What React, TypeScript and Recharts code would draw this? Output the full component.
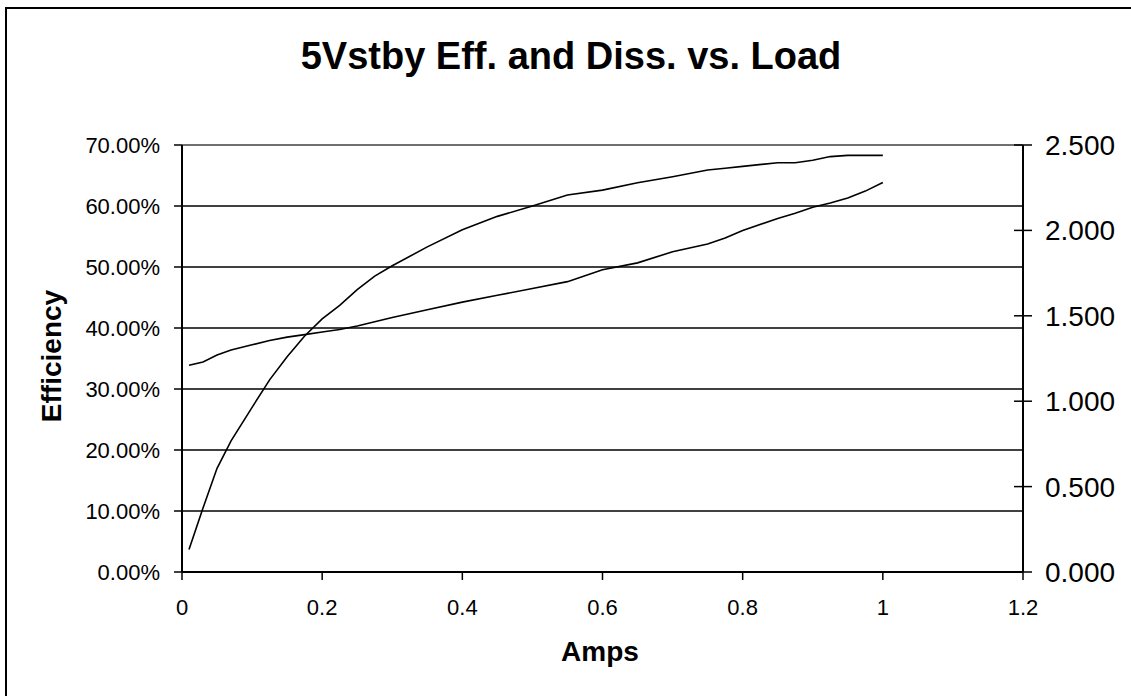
import React from 'react';
import { LineChart, Line, XAxis, YAxis, CartesianGrid, ReferenceLine } from 'recharts';

// load current (A)
const amps = [
    0.01, 0.03, 0.05, 0.07, 0.1, 0.125, 0.15, 0.175, 0.2, 0.225, 0.25, 0.275, 0.3, 0.35, 0.4, 0.45,
    0.5, 0.55, 0.6, 0.65, 0.7, 0.75, 0.775, 0.8, 0.85, 0.875, 0.9, 0.925, 0.95, 0.975, 1.0,
];

// efficiency (%)
const efficiency = [
    3.7, 10.5, 17.0, 21.5, 27.0, 31.5, 35.3, 38.7, 41.5, 43.7, 46.3, 48.5, 50.2, 53.3, 56.1, 58.3,
    60.0, 61.8, 62.6, 63.8, 64.8, 65.9, 66.2, 66.5, 67.1, 67.1, 67.5, 68.1, 68.3, 68.3, 68.3,
];

// dissipation (W)
const dissipation = [
    1.21, 1.23, 1.27, 1.3, 1.33, 1.355, 1.375, 1.39, 1.405, 1.42, 1.44, 1.465, 1.49, 1.535, 1.58, 1.62,
    1.66, 1.7, 1.77, 1.81, 1.875, 1.92, 1.955, 2.0, 2.07, 2.1, 2.135, 2.16, 2.19, 2.23, 2.28,
];

const xTicks = [0, 0.2, 0.4, 0.6, 0.8, 1, 1.2];
const effTicks = [0, 10, 20, 30, 40, 50, 60, 70];
const dissTicks = [0, 0.5, 1, 1.5, 2, 2.5];

const data = amps.map((a, i) => ({ amps: a, eff: efficiency[i], diss: dissipation[i] }));

const FONT = '"Liberation Sans", Arial, sans-serif';

// right axis ticks cross the axis line, so draw them by hand
const RightTick = (props: any) => {
    const { x, y, payload } = props;
    const axisX = x - 22;
    return (
        <g>
            <line x1={axisX - 9} y1={y} x2={axisX + 9} y2={y} stroke="#000" strokeWidth={1.5} />
            <text x={x} y={y} dy="0.355em" textAnchor="start" fontSize={28} fontFamily={FONT} fill="#000">
                {Number(payload.value).toFixed(3)}
            </text>
        </g>
    );
};

export default function App() {
    return (
        <div style={{ position: 'absolute', left: 0, top: 0, width: 1131, height: 696, background: '#fff', overflow: 'hidden' }}>
            <LineChart width={1131} height={696} data={data} margin={{ top: 145, right: 0, bottom: 0, left: 0 }}>
                <CartesianGrid yAxisId="left" vertical={false} stroke="#000" strokeWidth={1.5} />
                <ReferenceLine yAxisId="left" y={70} stroke="#808080" strokeWidth={1.5} />
                <XAxis
                    dataKey="amps"
                    type="number"
                    domain={[0, 1.2]}
                    ticks={xTicks}
                    interval={0}
                    height={124}
                    tickSize={8}
                    tickMargin={19}
                    tickFormatter={(v: number) => String(v)}
                    axisLine={{ stroke: '#000', strokeWidth: 2 }}
                    tickLine={{ stroke: '#000', strokeWidth: 1.5 }}
                    tick={{ fontSize: 22, fontFamily: FONT, fill: '#000' }}
                />
                <YAxis
                    yAxisId="left"
                    domain={[0, 70]}
                    ticks={effTicks}
                    interval={0}
                    width={182}
                    tickSize={8}
                    tickMargin={14}
                    tickFormatter={(v: number) => v.toFixed(2) + '%'}
                    axisLine={{ stroke: '#000', strokeWidth: 2 }}
                    tickLine={{ stroke: '#000', strokeWidth: 1.5 }}
                    tick={{ fontSize: 22, fontFamily: FONT, fill: '#000' }}
                />
                <YAxis
                    yAxisId="right"
                    orientation="right"
                    domain={[0, 2.5]}
                    ticks={dissTicks}
                    interval={0}
                    width={108}
                    tickSize={9}
                    tickMargin={13}
                    axisLine={{ stroke: '#000', strokeWidth: 2 }}
                    tickLine={false}
                    tick={<RightTick />}
                />
                <Line yAxisId="left" type="linear" dataKey="eff" stroke="#000" strokeWidth={1.6} dot={false} isAnimationActive={false} />
                <Line yAxisId="right" type="linear" dataKey="diss" stroke="#000" strokeWidth={1.6} dot={false} isAnimationActive={false} />
            </LineChart>
            <svg width={1131} height={696} style={{ position: 'absolute', left: 0, top: 0, pointerEvents: 'none' }}>
                <path d="M6 700 L6 8 L1140 8" fill="none" stroke="#000" strokeWidth={2} />
                <text x={571} y={69} textAnchor="middle" fontSize={38} fontWeight="bold" fontFamily={FONT} fill="#000">
                    5Vstby Eff. and Diss. vs. Load
                </text>
                <text x={600} y={661} textAnchor="middle" fontSize={28} fontWeight="bold" fontFamily={FONT} fill="#000">
                    Amps
                </text>
                <text transform="translate(61,356) rotate(-90)" textAnchor="middle" fontSize={28} fontWeight="bold" fontFamily={FONT} fill="#000">
                    Efficiency
                </text>
            </svg>
        </div>
    );
}
